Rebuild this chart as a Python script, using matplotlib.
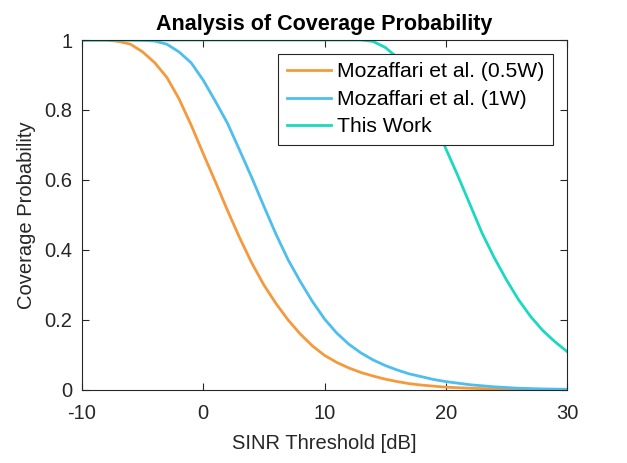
import numpy as np
import matplotlib
matplotlib.use("Agg")
import matplotlib.pyplot as plt

plt.rcParams['font.family'] = ['Liberation Sans', 'DejaVu Sans']
plt.rcParams['axes.unicode_minus'] = False

# values
x_half = [-10, -9, -8, -7, -6, -5, -4, -3, -2, -1, 0, 1, 2, 3, 4, 5, 6, 7, 8, 9,
          10, 11, 12, 13, 14, 15, 16, 17, 18, 19, 20, 22, 24, 26, 28, 30]
y_half = [1, 1, 1, 0.996, 0.988, 0.966, 0.935, 0.893, 0.832, 0.757, 0.675, 0.595,
          0.513, 0.435, 0.363, 0.3, 0.247, 0.2, 0.16, 0.126, 0.099, 0.079,
          0.063, 0.05, 0.04, 0.031, 0.024, 0.018, 0.014, 0.011, 0.008, 0.005,
          0.003, 0.002, 0.001, 0.001]

x_one = [-10, -9, -8, -7, -6, -5, -4, -3, -2, -1, 0, 1, 2, 3, 4, 5, 6, 7, 8, 9,
         10, 11, 12, 13, 14, 15, 16, 17, 18, 19, 20, 22, 24, 26, 28, 30]
y_one = [1, 1, 1, 1, 1, 0.999, 0.997, 0.988, 0.966, 0.935, 0.885, 0.825, 0.762,
         0.685, 0.607, 0.525, 0.445, 0.372, 0.31, 0.253, 0.203, 0.163, 0.131, 0.106,
         0.086, 0.07, 0.057, 0.046, 0.038, 0.03, 0.024, 0.015, 0.009, 0.005,
         0.003, 0.002]

x_work = [-10, 0, 10, 12, 13, 14, 15, 16, 17, 18, 19, 20, 21, 22, 23, 24, 25,
          26, 27, 28, 29, 30]
y_work = [1, 1, 1, 1, 1, 0.996, 0.979, 0.95, 0.905, 0.845, 0.775, 0.69, 0.612,
          0.53, 0.448, 0.378, 0.315, 0.258, 0.21, 0.17, 0.138, 0.11]

labels = ['Mozaffari et al. (0.5W)', 'Mozaffari et al. (1W)', 'This Work']
colors = ['#F59A3C', '#4DBEEE', '#1AD9C0']

fig = plt.figure(figsize=(6.27, 4.63), dpi=100)
ax = fig.add_axes([0.1308, 0.1577, 0.7735, 0.7559])

ax.plot(x_half, y_half, color=colors[0], lw=2, label=labels[0])
ax.plot(x_one, y_one, color=colors[1], lw=2, label=labels[1])
ax.plot(x_work, y_work, color=colors[2], lw=2, label=labels[2])

ax.set_xlim(-10, 30)
ax.set_ylim(0, 1)
ax.set_xticks([-10, 0, 10, 20, 30])
ax.set_yticks([0, 0.2, 0.4, 0.6, 0.8, 1])
ax.set_yticklabels(['0', '0.2', '0.4', '0.6', '0.8', '1'])
ax.tick_params(direction='in', top=True, right=True, length=5, width=0.8,
               labelsize=14.5, colors='#262626')
ax.tick_params(axis='x', pad=10)
ax.tick_params(axis='y', pad=7)
for s in ax.spines.values():
    s.set_color('#262626')
    s.set_linewidth(0.8)

ax.set_xlabel('SINR Threshold [dB]', fontsize=14.5, color='#262626', labelpad=8)
ax.set_ylabel('Coverage Probability', fontsize=14.5, color='#262626', labelpad=6)
ax.set_title('Analysis of Coverage Probability', fontsize=15.5, fontweight='bold', pad=7)

leg = ax.legend(loc='upper right', bbox_to_anchor=(0.971, 0.96), fontsize=15.2,
                frameon=True, fancybox=False, edgecolor='#262626', framealpha=1,
                borderaxespad=0, handlelength=2.1, handletextpad=0.3,
                labelspacing=0.4, borderpad=0.4)
leg.get_frame().set_linewidth(0.8)

fig.savefig('out.png', dpi=100)
